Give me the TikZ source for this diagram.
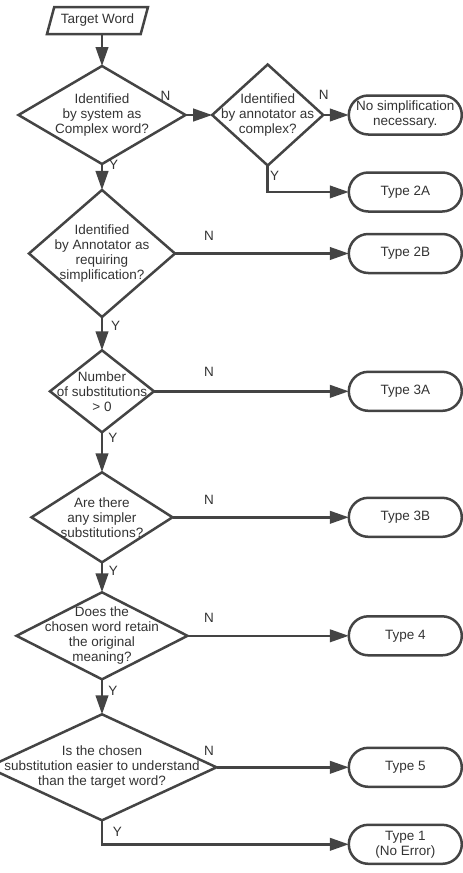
\documentclass[tikz,border=0pt]{standalone}
\usepackage{fontspec}
\setmainfont{Liberation Sans}
\usetikzlibrary{positioning,arrows.meta,shapes.geometric,shapes.misc}
\usepackage{xcolor}
\definecolor{linegray}{HTML}{444444}
\definecolor{textgray}{HTML}{333333}

\begin{document}
\begin{tikzpicture}[
  x=1pt, y=1pt,
  font=\fontsize{13.5}{15}\selectfont,
  dec/.style={diamond, draw=linegray, line width=2.5pt, inner sep=0pt, outer sep=0pt},
  txt/.style={align=center, inner sep=0pt, text=textgray},
  term/.style={rounded rectangle, draw=linegray, line width=2.5pt, minimum width=113pt, minimum height=39pt, align=center, inner sep=0pt, outer sep=0pt, text=textgray},
  io/.style={trapezium, trapezium left angle=60, trapezium right angle=120, trapezium stretches body, draw=linegray, line width=2.5pt, minimum width=101pt, minimum height=27pt, inner sep=0pt, outer sep=0pt, text=textgray},
  arr/.style={-{Triangle[length=19pt, width=12.5pt]}, draw=linegray, line width=2.5pt},
  lbl/.style={inner sep=0pt, text=textgray}
]
\useasboundingbox (0,0) rectangle (463,-873);

% main column of decisions
\node[dec, minimum width=167pt, minimum height=98pt, label={[txt]center:{Identified\\by system as\\Complex word?}}] (sys) at (102,-115) {};
\node[io, above=32pt of sys, xshift=-4.5pt] (target) {Target Word};
\node[dec, below=26pt of sys, minimum width=146pt, minimum height=127pt, label={[txt]center:{Identified\\by Annotator as\\requiring\\simplification?}}] (req) {};
\node[dec, below=33.3pt of req, minimum width=104pt, minimum height=82pt, label={[txt]center:{Number\\of substitutions\\> 0}}] (num) {};
\node[dec, below=40pt of num, minimum width=141pt, minimum height=90pt, label={[txt]center:{Are there\\any simpler\\substitutions?}}] (simp) {};
\node[dec, below=30pt of simp, minimum width=171pt, minimum height=87pt, label={[txt]center:{Does the\\chosen word retain\\the original\\meaning?}}] (mean) {};
\node[dec, below=35pt of mean, minimum width=229pt, minimum height=106pt, label={[txt]center:{Is the chosen\\substitution easier to understand\\than the target word?}}] (easy) {};

% second check and outcomes
\node[dec, right=26.7pt of sys, minimum width=111pt, minimum height=101pt, label={[txt]center:{Identified\\by annotator as\\complex?}}] (annot) {};
\node[term, right=25.6pt of annot] (none) {No simplification\\necessary.};
\node[term, below=38pt of none] (t2a) {Type 2A};
\node[term] (t2b) at (req -| none) {Type 2B};
\node[term] (t3a) at (num -| none) {Type 3A};
\node[term] (t3b) at (simp -| none) {Type 3B};
\node[term] (t4) at (mean -| none) {Type 4};
\node[term] (t5) at (easy -| none) {Type 5};
\node[term, below=38pt of t5] (t1) {Type 1\\(No Error)};
\coordinate (ncol) at (209,0);

\draw[arr] (target.south -| sys.north) -- (sys.north);
\draw[arr] (sys) -- (annot);
\draw[arr] (annot) -- (none);
\draw[arr] (annot.south) |- (t2a.west);
\draw[arr] (sys) -- (req);
\draw[arr] (req) -- (t2b);
\draw[arr] (req) -- (num);
\draw[arr] (num) -- (t3a);
\draw[arr] (num) -- (simp);
\draw[arr] (simp) -- (t3b);
\draw[arr] (simp) -- (mean);
\draw[arr] (mean) -- (t4);
\draw[arr] (mean) -- (easy);
\draw[arr] (easy) -- (t5);
\draw[arr] (easy.south) |- (t1.west);

% N / Y labels
\node[lbl] (n1) at ([shift={(-20pt,19pt)}]sys.east) {N};
\node[lbl] (n2) at ([shift={(0.6pt,20pt)}]annot.east) {N};
\node[lbl, yshift=18pt] (n3) at (ncol |- req.east) {N};
\node[lbl, yshift=19pt] (n4) at (ncol |- num.east) {N};
\node[lbl, yshift=17.5pt] (n5) at (ncol |- simp.east) {N};
\node[lbl, yshift=18pt] (n6) at (ncol |- mean.east) {N};
\node[lbl, yshift=16.5pt] (n7) at (ncol |- easy.east) {N};
\node[lbl] (y1) at ([shift={(11.6pt,-0.7pt)}]sys.south) {Y};
\node[lbl] (y2) at ([shift={(7pt,-10.7pt)}]annot.south) {Y};
\node[lbl] (y3) at ([shift={(13.7pt,-9.3pt)}]req.south) {Y};
\node[lbl] (y4) at ([shift={(11pt,-6pt)}]num.south) {Y};
\node[lbl] (y5) at ([shift={(11.3pt,-8.3pt)}]simp.south) {Y};
\node[lbl] (y6) at ([shift={(11pt,-11.7pt)}]mean.south) {Y};
\node[lbl] (y7) at ([shift={(15.3pt,-11.4pt)}]easy.south) {Y};
\end{tikzpicture}
\end{document}
